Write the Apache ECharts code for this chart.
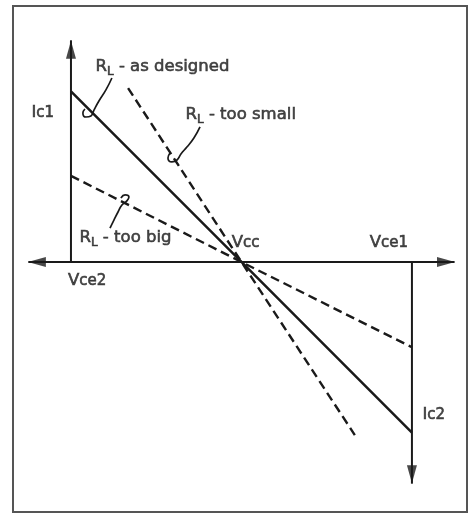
<!DOCTYPE html>
<html>
<head>
<meta charset="utf-8">
<script src="https://cdn.jsdelivr.net/npm/echarts@6/dist/echarts.min.js"></script>
<style>
  html, body { margin: 0; padding: 0; background: #fff; }
  #main { width: 469px; height: 515px; }
</style>
</head>
<body>
<div id="main"></div>
<script>
// axes of the load line diagram (Vcc at origin)
var hAxis = [[-12.5, 0], [12.5, 0]];
var ic1Axis = [[-10, 0], [-10, 13]];
var ic2Axis = [[10, 0], [10, -13]];
var arrowPos = [[-10, 12.45], [10, -12.45], [-12.0, 0], [12.0, 0]];
var arrowRot = [0, 180, 90, -90];

// load lines
var designed = [[-10, 10], [0, 0], [10, -10]];
var tooBig = [[-10, 5.05], [0, 0], [10, -5]];
var tooSmall = [[-6.65, 10.2], [0, 0], [6.65, -10.15]];

// leader hooks from the labels to the lines
var leadDesigned = [[-7.6, 10.79], [-7.95, 10.09], [-8.36, 9.44], [-8.65, 8.91], [-8.83, 8.56], [-9.12, 8.5], [-9.3, 8.74], [-9.18, 8.97]];
var leadSmall = [[-2.43, 7.92], [-2.79, 7.27], [-3.2, 6.74], [-3.55, 6.33], [-3.78, 5.98], [-4.08, 5.87], [-4.31, 6.1], [-4.19, 6.39]];
var leadBig = [[-7.71, 1.99], [-7.48, 2.46], [-7.24, 2.93], [-7.01, 3.34], [-6.72, 3.58], [-6.6, 3.81], [-6.83, 3.93], [-7.07, 3.75]];

// text labels
var labelText = [
  '{m|R}{s|L}{m| - as designed}',
  '{m|I}{c|c1}',
  '{m|R}{s|L}{m| - too small}',
  '{m|R}{s|L}{m| - too big}',
  '{m|V}{c|cc}',
  '{m|V}{c|ce1}',
  '{m|V}{c|ce2}',
  '{m|I}{c|c2}'
];
var labelPos = [[-8.59, 11.44], [-12.35, 8.74], [-3.31, 8.62], [-9.53, 1.41], [-0.6, 1.11], [7.5, 1.11], [-10.2, -1.11], [10.59, -8.97]];

var ink = '#1a1a1a';
var myChart = echarts.init(document.getElementById('main'));

function seg(data, dashed, width) {
  return {
    type: 'line',
    data: data,
    symbol: 'none',
    smooth: false,
    silent: true,
    lineStyle: { color: ink, width: width || 2, type: dashed ? [9, 5] : 'solid' }
  };
}

function hook(data) {
  return {
    type: 'line',
    data: data,
    symbol: 'none',
    smooth: 0.5,
    silent: true,
    lineStyle: { color: ink, width: 1.7 }
  };
}

var txt = { color: ink, fontFamily: 'DejaVu Sans', textBorderColor: ink, textBorderWidth: 0.6 };

myChart.setOption({
  backgroundColor: '#fff',
  animation: false,
  grid: {
    left: 13, right: 2, top: 6, bottom: 3,
    show: true,
    borderColor: '#555',
    borderWidth: 2
  },
  xAxis: { type: 'value', min: -13.4, max: 13.23, show: false },
  yAxis: { type: 'value', min: -14.66, max: 15.01, show: false },
  series: [
    seg(hAxis, false, 2),
    seg(ic1Axis, false, 2),
    seg(ic2Axis, false, 2),
    seg(designed, false, 2.5),
    seg(tooBig, true, 2.4),
    seg(tooSmall, true, 2.4),
    hook(leadDesigned),
    hook(leadSmall),
    hook(leadBig),
    {
      type: 'scatter',
      silent: true,
      symbol: 'triangle',
      symbolSize: [10, 18],
      itemStyle: { color: ink },
      data: arrowPos.map(function (p, i) {
        return { value: p, symbolRotate: arrowRot[i] };
      })
    },
    {
      type: 'scatter',
      silent: true,
      symbolSize: 1,
      itemStyle: { color: 'rgba(0,0,0,0)' },
      data: labelPos.map(function (p, i) {
        return { value: p, label: { formatter: labelText[i] } };
      }),
      label: Object.assign({
        show: true,
        position: 'right',
        distance: 0,
        rich: {
          m: Object.assign({ fontSize: 16.5, lineHeight: 22, verticalAlign: 'middle' }, txt),
          s: Object.assign({ fontSize: 12, lineHeight: 12, verticalAlign: 'bottom' }, txt),
          c: Object.assign({ fontSize: 15, lineHeight: 22, verticalAlign: 'middle' }, txt)
        }
      }, txt)
    }
  ]
});
</script>
</body>
</html>
